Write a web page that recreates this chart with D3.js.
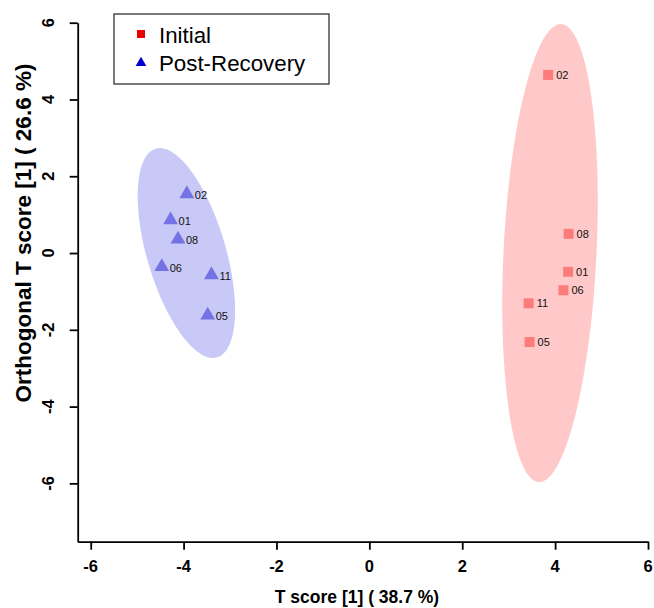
<!DOCTYPE html>
<html>
<head>
<meta charset="utf-8">
<script src="https://cdn.jsdelivr.net/npm/d3@7"></script>
<style>
  html, body { margin: 0; padding: 0; background: #fff; }
  svg { display: block; font-family: "Liberation Sans", Arial, sans-serif; }
</style>
</head>
<body>
<svg id="chart" width="654" height="608"></svg>
<script>
// ---- data ----
const groups = ["Initial", "Post-Recovery"];
const sampleIds = ["02", "08", "01", "06", "11", "05"];
const initialX = [3.85, 4.29, 4.28, 4.18, 3.43, 3.45];
const initialY = [4.64, 0.50, -0.49, -0.97, -1.31, -2.32];
const recoveryIds = ["02", "01", "08", "06", "11", "05"];
const recoveryX = [-3.93, -4.28, -4.12, -4.47, -3.40, -3.48];
const recoveryY = [1.54, 0.86, 0.36, -0.36, -0.57, -1.62];
// ellipse: centre and two conjugate half-axis vectors, in score units
const ellipseInitial = { cx: 3.89, cy: 0.0, ux: 0.241, uy: 5.967, vx: 1.0, vy: -0.061 };
const ellipseRecovery = { cx: -3.94, cy: 0.0, ux: -0.661, uy: 2.718, vx: 0.814, vy: 0.289 };
const xTicks = [-6, -4, -2, 0, 2, 4, 6];
const yTicks = [-6, -4, -2, 0, 2, 4, 6];
const xTitle = "T score [1] ( 38.7 %)";
const yTitle = "Orthogonal T score [1] ( 26.6 %)";

// ---- layout ----
const svg = d3.select("#chart");
const x = d3.scaleLinear().domain([-6.28, 6]).range([77.7, 648]);
const y = d3.scaleLinear().domain([-7.52, 6]).range([541.7, 22.7]);

function ellipsePath(e) {
  const pts = d3.range(0, 361, 3).map(a => {
    const t = a * Math.PI / 180;
    return [x(e.cx + e.ux * Math.cos(t) + e.vx * Math.sin(t)),
            y(e.cy + e.uy * Math.cos(t) + e.vy * Math.sin(t))];
  });
  return d3.line().curve(d3.curveLinearClosed)(pts);
}

svg.append("path").attr("d", ellipsePath(ellipseInitial)).attr("fill", "#ffc9c9");
svg.append("path").attr("d", ellipsePath(ellipseRecovery)).attr("fill", "#c9c9f7");

// axes
const gx = svg.append("g").attr("transform", `translate(0,${y(-7.52)})`)
  .call(d3.axisBottom(x).tickValues(xTicks).tickSize(8).tickSizeOuter(0).tickFormat(""));
const gy = svg.append("g").attr("transform", `translate(${x(-6.28)},0)`)
  .call(d3.axisLeft(y).tickValues(yTicks).tickSize(8).tickSizeOuter(0).tickFormat(""));
[gx, gy].forEach(g => {
  g.selectAll("path, line").attr("stroke", "#000").attr("stroke-width", 1.8);
});

svg.append("g").selectAll("text").data(xTicks).join("text")
  .attr("x", d => x(d)).attr("y", 566)
  .attr("text-anchor", "middle").attr("dominant-baseline", "central")
  .attr("font-size", 16.5).attr("font-weight", "bold")
  .text(d => d);

svg.append("g").selectAll("text").data(yTicks).join("text")
  .attr("transform", d => `translate(48,${y(d)}) rotate(-90)`)
  .attr("text-anchor", "middle").attr("dominant-baseline", "central")
  .attr("font-size", 16.5).attr("font-weight", "bold")
  .text(d => d);

svg.append("text").attr("x", 357).attr("y", 597)
  .attr("text-anchor", "middle").attr("dominant-baseline", "central")
  .attr("font-size", 17.5).attr("font-weight", "bold").text(xTitle);

svg.append("text").attr("transform", "translate(23,233) rotate(-90)")
  .attr("text-anchor", "middle").attr("dominant-baseline", "central")
  .attr("font-size", 22.5).attr("font-weight", "bold").text(yTitle);

// points
const tri = d3.symbol().type(d3.symbolTriangle).size(95);
const recovery = recoveryIds.map((id, i) => ({ id, x: recoveryX[i], y: recoveryY[i] }));
const initial = sampleIds.map((id, i) => ({ id, x: initialX[i], y: initialY[i] }));

svg.append("g").selectAll("path").data(recovery).join("path")
  .attr("d", tri).attr("fill", "#7373e6")
  .attr("transform", d => `translate(${x(d.x)},${y(d.y)})`);
svg.append("g").selectAll("text").data(recovery).join("text")
  .attr("x", d => x(d.x) + 8).attr("y", d => y(d.y) + 1)
  .attr("dominant-baseline", "central").attr("font-size", 11).attr("fill", "#111")
  .text(d => d.id);

svg.append("g").selectAll("rect").data(initial).join("rect")
  .attr("x", d => x(d.x) - 5).attr("y", d => y(d.y) - 5)
  .attr("width", 10).attr("height", 10).attr("fill", "#fe7b7b");
svg.append("g").selectAll("text").data(initial).join("text")
  .attr("x", d => x(d.x) + 8).attr("y", d => y(d.y))
  .attr("dominant-baseline", "central").attr("font-size", 11).attr("fill", "#111")
  .text(d => d.id);

// legend
const lg = svg.append("g");
lg.append("rect").attr("x", 114).attr("y", 14).attr("width", 215).attr("height", 70)
  .attr("fill", "#fff").attr("stroke", "#333").attr("stroke-width", 1.3);
lg.append("rect").attr("x", 137).attr("y", 30).attr("width", 8).attr("height", 8).attr("fill", "#ee0000");
lg.append("path").attr("d", d3.symbol().type(d3.symbolTriangle).size(50))
  .attr("transform", "translate(141,63)").attr("fill", "#0000cc");
lg.append("text").attr("x", 159).attr("y", 35).attr("dominant-baseline", "central")
  .attr("font-size", 22.3).text(groups[0]);
lg.append("text").attr("x", 159).attr("y", 63).attr("dominant-baseline", "central")
  .attr("font-size", 22.3).text(groups[1]);
</script>
</body>
</html>
